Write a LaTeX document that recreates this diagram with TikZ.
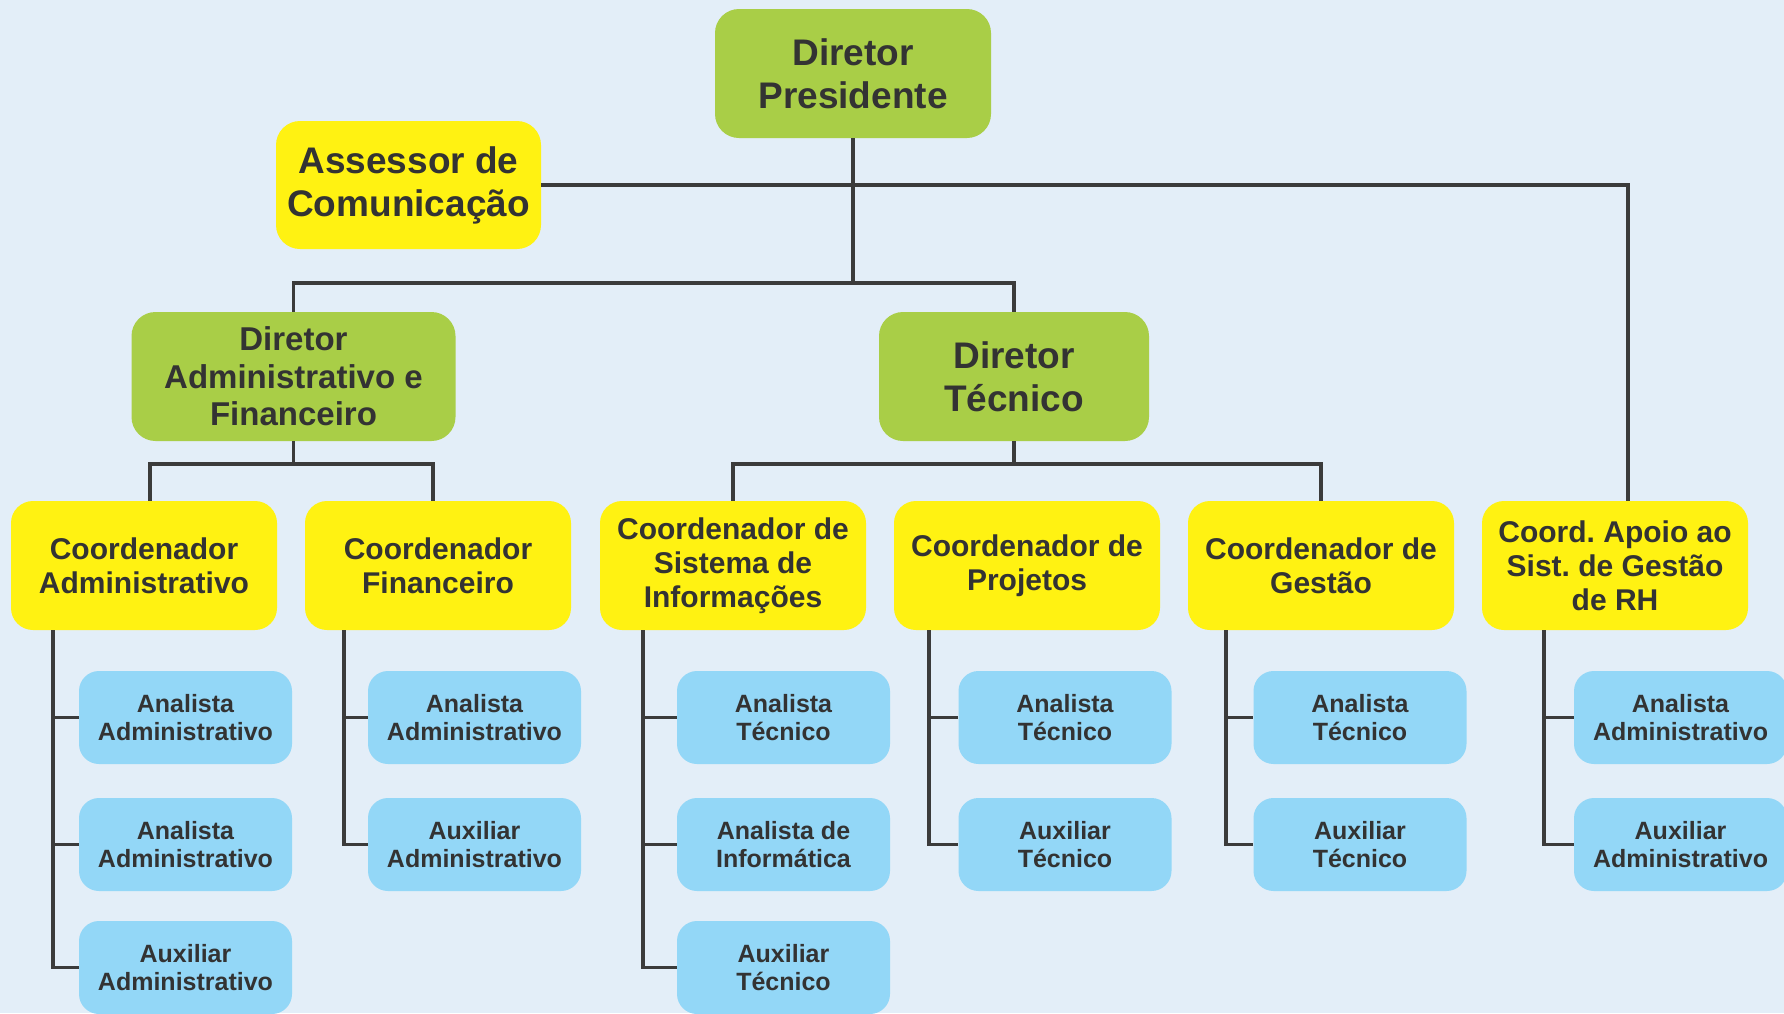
\documentclass[tikz,border=0pt]{standalone}
\usepackage{fontspec}
\setmainfont{Liberation Sans}
\frenchspacing
\definecolor{bgblue}{HTML}{E3EEF8}
\definecolor{dirgreen}{HTML}{A9CE47}
\definecolor{coordyellow}{HTML}{FFF212}
\definecolor{staffblue}{HTML}{93D7F7}
\definecolor{txtgray}{HTML}{333333}
\definecolor{linegray}{HTML}{3B3B3B}
\begin{document}
\begin{tikzpicture}[x=1pt,y=1pt]
\tikzstyle{every node}+=[inner sep=0pt, align=center, text=txtgray]
\tikzstyle{dirbox}=[fill=dirgreen, rounded corners=24pt, minimum height=129pt, font=\fontsize{37}{43}\selectfont\bfseries]
\tikzstyle{ascbox}=[fill=coordyellow, rounded corners=24pt, minimum width=265pt, minimum height=128pt, font=\fontsize{37}{43}\selectfont\bfseries]
\tikzstyle{coordbox}=[fill=coordyellow, rounded corners=22pt, minimum width=266pt, minimum height=129pt, font=\fontsize{30}{34}\selectfont\bfseries]
\tikzstyle{staffbox}=[fill=staffblue, rounded corners=20pt, minimum width=213pt, minimum height=93pt, font=\fontsize{25}{28.5}\selectfont\bfseries]
\tikzstyle{link}=[draw=linegray, line width=3.2pt]
\fill [bgblue] (0,0) rectangle (1784,-1013);
\useasboundingbox (0,0) rectangle (1784,-1013);
% directors
\node [dirbox, minimum width=276pt] (dp) at (853,-73.5) {Diretor\\Presidente};
\node [ascbox] (asc) at (408.5,-185) {Assessor de\\Comunicação};
\node [dirbox, minimum width=324pt, font=\fontsize{33}{37.5}\selectfont\bfseries] (daf) at (293.5,-376.5) {Diretor\\Administrativo e\\Financeiro};
\node [dirbox, minimum width=270pt] (dt) at (1014,-376.5) {Diretor\\Técnico};
% coordinators
\node [coordbox] (ca) at (144,-565.5) {Coordenador\\Administrativo};
\node [coordbox] (cf) at (438,-565.5) {Coordenador\\Financeiro};
\node [coordbox] (csi) at (733,-565.5) {Coordenador de\\Sistema de\\Informações};
\node [coordbox] (cp) at (1027,-565.5) {Coordenador de\\Projetos};
\node [coordbox] (cg) at (1321,-565.5) {Coordenador de\\Gestão};
\node [coordbox] (crh) at (1615,-565.5) {Coord. Apoio ao\\Sist. de Gestão\\de RH};
% staff
\node [staffbox] (aa1) at (185.5,-717.5) {Analista\\Administrativo};
\node [staffbox] (aa2) at (185.5,-844.5) {Analista\\Administrativo};
\node [staffbox] (aa3) at (185.5,-967.5) {Auxiliar\\Administrativo};
\node [staffbox] (af1) at (474.5,-717.5) {Analista\\Administrativo};
\node [staffbox] (af2) at (474.5,-844.5) {Auxiliar\\Administrativo};
\node [staffbox] (as1) at (783.5,-717.5) {Analista\\Técnico};
\node [staffbox] (as2) at (783.5,-844.5) {Analista de\\Informática};
\node [staffbox] (as3) at (783.5,-967.5) {Auxiliar\\Técnico};
\node [staffbox] (ap1) at (1065,-717.5) {Analista\\Técnico};
\node [staffbox] (ap2) at (1065,-844.5) {Auxiliar\\Técnico};
\node [staffbox] (ag1) at (1360,-717.5) {Analista\\Técnico};
\node [staffbox] (ag2) at (1360,-844.5) {Auxiliar\\Técnico};
\node [staffbox] (ar1) at (1680.5,-717.5) {Analista\\Administrativo};
\node [staffbox] (ar2) at (1680.5,-844.5) {Auxiliar\\Administrativo};
% upper links
\coordinate (topbar) at (853,-283);
\coordinate (dafbar) at (293.5,-464);
\coordinate (dtbar) at (1014,-464);
\draw [link] (dp.south) -- (topbar);
\draw [link] (daf.north) |- (topbar) -| (dt.north);
\draw [link] (asc.east) -| ([xshift=13pt]crh.north);
\draw [link] (daf.south) -- (dafbar);
\draw [link] ([xshift=6pt]ca.north) |- (dafbar) -| ([xshift=-5pt]cf.north);
\draw [link] (dt.south) -- (dtbar);
\draw [link] (csi.north) |- (dtbar) -| (cg.north);
% staff links
\coordinate (ta) at (53,-630);
\coordinate (tf) at (344,-630);
\coordinate (ts) at (643,-630);
\coordinate (tp) at (929,-630);
\coordinate (tg) at (1226,-630);
\coordinate (tr) at (1544,-630);
\draw [link] (ta) |- (aa1.west);
\draw [link] (ta) |- (aa2.west);
\draw [link] (ta) |- (aa3.west);
\draw [link] (tf) |- (af1.west);
\draw [link] (tf) |- (af2.west);
\draw [link] (ts) |- (as1.west);
\draw [link] (ts) |- (as2.west);
\draw [link] (ts) |- (as3.west);
\draw [link] (tp) |- (ap1.west);
\draw [link] (tp) |- (ap2.west);
\draw [link] (tg) |- (ag1.west);
\draw [link] (tg) |- (ag2.west);
\draw [link] (tr) |- (ar1.west);
\draw [link] (tr) |- (ar2.west);
\end{tikzpicture}
\end{document}
